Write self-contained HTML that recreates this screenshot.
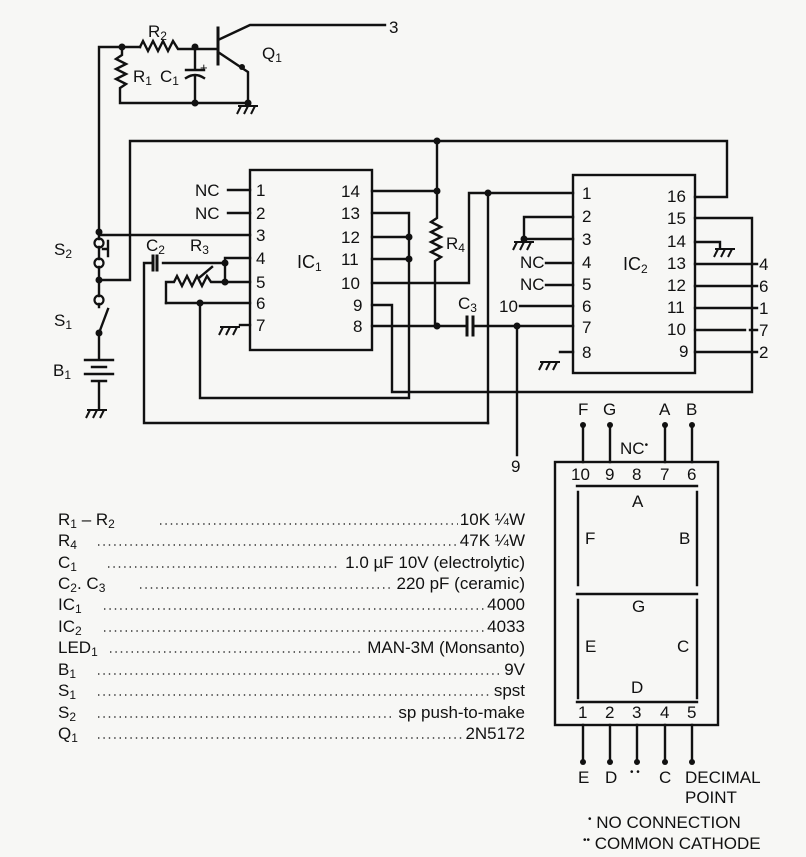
<!DOCTYPE html>
<html><head><meta charset="utf-8"><style>
html,body{margin:0;padding:0;background:#f7f7f5}
svg{display:block}
text{font-family:"Liberation Sans",sans-serif;fill:#111}
</style></head><body>
<svg width="806" height="857" viewBox="0 0 806 857" xmlns="http://www.w3.org/2000/svg">
<defs>
<g id="gnd"><path d="M-10 0H10M-7 0L-11 8M0 0L-4 8M7 0L3 8" stroke="#111" stroke-width="2" fill="none"/></g>
</defs>
<g stroke="#111" stroke-width="2.4" fill="none" stroke-linecap="square">
<path d="M99 232V47H140"/>
<path d="M140 47l3-6 5 10 5-10 5 10 5-10 5 10 5-10 5 8H218"/>
<path d="M122 47v8l-6 4 10 5-10 5 10 5-10 5 10 5-6 4V103H250"/>
<path d="M195 47V70M186 70H204M186 78q9-6 18 0M195 76V103"/>
<path d="M218 28V64" stroke-width="3"/>
<path d="M218 40L250 25H385"/>
<path d="M218 52L248 72V104"/>
<path d="M99 280H130V141H727V197H695"/>
<path d="M99 232V239M99 247V259M99 267V296M108 241V256M103 249H108"/>
<path d="M99 304V307M99 333L108 309M99 333V358"/>
<path d="M85 360H113M92 367H106M85 374H113M92 381H106M99 381V408"/>
<rect x="250" y="170" width="122" height="180"/>
<path d="M228 190H250M228 213H250M99 235H250"/>
<path d="M163 263H225M225 258H250M225 258V282M225 282H250"/>
<path d="M144 263H153M144 263V423H488"/>
<path d="M153 256V270M157 256V270" stroke-width="3"/>
<path d="M166 303V282H174l3-6 5 10 5-10 5 10 5-10 5 10 5-10 4 6H225"/>
<path d="M200 277l12-10"/>
<path d="M166 303H250M200 303V398H409V213H372M372 237H409M372 259H409"/>
<path d="M240 325H250"/>
<path d="M372 191H437M437 141V218l-6 4 10 5-10 5 10 5-10 5 10 5-10 5 10 5-6 4V326"/>
<path d="M372 283H469V193H573M488 193V423"/>
<path d="M372 305H392V392H752V218H695"/>
<path d="M372 326H467M473 326H573M517 326V455"/>
<path d="M467 317V335M473 317V335" stroke-width="3"/>
<rect x="573" y="175" width="122" height="198"/>
<path d="M573 217H524V239H573"/>
<path d="M546 263H573M546 285H573M520 306H573M560 352H573V352"/>
<path d="M695 242H720V248"/>
<path d="M695 264H757M695 286H757M695 308H757M695 330H745M750 330H757M695 352H757"/>
<rect x="555" y="462" width="163" height="263"/>
<path d="M583 425V462M610 425V462M665 425V462M692 425V462"/>
<path d="M577 486H697M578 492V585M697 492V585M577 594H697M578 600V698M697 600V698M577 702H697"/>
<path d="M583 725V762M610 725V762M637 725V762M665 725V762M692 725V762"/>
</g>
<g fill="#111">
<circle cx="122" cy="47" r="3.5"/><circle cx="195" cy="47" r="3.5"/><circle cx="195" cy="103" r="3.5"/><circle cx="248" cy="103" r="3.5"/><circle cx="242" cy="67" r="3"/>
<circle cx="99" cy="232" r="3.5"/><circle cx="99" cy="280" r="3.5"/><circle cx="99" cy="333" r="3.5"/>
<circle cx="225" cy="263" r="3.5"/><circle cx="225" cy="282" r="3.5"/><circle cx="200" cy="303" r="3.5"/>
<circle cx="409" cy="237" r="3.5"/><circle cx="409" cy="259" r="3.5"/>
<circle cx="437" cy="141" r="3.5"/><circle cx="437" cy="191" r="3.5"/><circle cx="437" cy="326" r="3.5"/>
<circle cx="488" cy="193" r="3.5"/><circle cx="517" cy="326" r="3.5"/><circle cx="524" cy="239" r="3.5"/>
<circle cx="583" cy="425" r="3"/><circle cx="610" cy="425" r="3"/><circle cx="665" cy="425" r="3"/><circle cx="692" cy="425" r="3"/>
<circle cx="583" cy="762" r="3"/><circle cx="610" cy="762" r="3"/><circle cx="637" cy="762" r="3"/><circle cx="665" cy="762" r="3"/><circle cx="692" cy="762" r="3"/>
</g>
<g fill="none" stroke="#111" stroke-width="2.2">
<circle cx="99" cy="243" r="4.5"/><circle cx="99" cy="263" r="4.5"/><circle cx="99" cy="300" r="4.5"/>
</g>
<use href="#gnd" x="248" y="106"/><use href="#gnd" x="97" y="410"/><use href="#gnd" x="230" y="327"/>
<use href="#gnd" x="524" y="242"/><use href="#gnd" x="550" y="362"/><use href="#gnd" x="725" y="249"/>
<g font-size="17">
<text x="148" y="37">R<tspan font-size="12" dy="3">2</tspan></text>
<text x="133" y="82">R<tspan font-size="12" dy="3">1</tspan></text>
<text x="160" y="82">C<tspan font-size="12" dy="3">1</tspan></text>
<text x="200" y="72" font-size="13">+</text>
<text x="262" y="59">Q<tspan font-size="12" dy="3">1</tspan></text>
<text x="389" y="33">3</text>
<text x="54" y="255">S<tspan font-size="12" dy="3">2</tspan></text>
<text x="54" y="326">S<tspan font-size="12" dy="3">1</tspan></text>
<text x="53" y="376">B<tspan font-size="12" dy="3">1</tspan></text>
<text x="146" y="251">C<tspan font-size="12" dy="3">2</tspan></text>
<text x="190" y="251">R<tspan font-size="12" dy="3">3</tspan></text>
<text x="195" y="196">NC</text><text x="195" y="219">NC</text>
<text x="256" y="196">1</text><text x="256" y="219">2</text><text x="256" y="241">3</text><text x="256" y="264">4</text><text x="256" y="288">5</text><text x="256" y="309">6</text><text x="256" y="331">7</text>
<text x="341" y="197">14</text><text x="341" y="219">13</text><text x="341" y="243">12</text><text x="341" y="265">11</text><text x="341" y="289">10</text><text x="353" y="311">9</text><text x="353" y="332">8</text>
<text x="297" y="268" font-size="18">IC<tspan font-size="12" dy="3">1</tspan></text>
<text x="446" y="249">R<tspan font-size="12" dy="3">4</tspan></text>
<text x="458" y="309">C<tspan font-size="12" dy="3">3</tspan></text>
<text x="511" y="472">9</text>
<text x="582" y="199">1</text><text x="582" y="222">2</text><text x="582" y="245">3</text><text x="582" y="268">4</text><text x="582" y="290">5</text><text x="582" y="312">6</text><text x="582" y="333">7</text><text x="582" y="358">8</text>
<text x="520" y="268">NC</text><text x="520" y="290">NC</text><text x="499" y="312">10</text>
<text x="667" y="202">16</text><text x="667" y="224">15</text><text x="667" y="247">14</text><text x="667" y="269">13</text><text x="667" y="291">12</text><text x="667" y="313">11</text><text x="667" y="335">10</text><text x="679" y="357">9</text>
<text x="623" y="270" font-size="18">IC<tspan font-size="12" dy="3">2</tspan></text>
<text x="759" y="270">4</text><text x="759" y="292">6</text><text x="759" y="314">1</text><text x="759" y="336">7</text><text x="759" y="358">2</text>
<text x="578" y="415">F</text><text x="603" y="415">G</text><text x="659" y="415">A</text><text x="686" y="415">B</text>
<text x="620" y="454">NC<tspan font-size="10" dy="-6">•</tspan></text>
<text x="571" y="480">10</text><text x="605" y="480">9</text><text x="632" y="480">8</text><text x="660" y="480">7</text><text x="687" y="480">6</text>
<text x="632" y="507">A</text><text x="585" y="544">F</text><text x="679" y="544">B</text>
<text x="632" y="612">G</text><text x="585" y="652">E</text><text x="677" y="652">C</text><text x="631" y="693">D</text>
<text x="578" y="718">1</text><text x="605" y="718">2</text><text x="632" y="718">3</text><text x="660" y="718">4</text><text x="687" y="718">5</text>
<text x="578" y="783">E</text><text x="605" y="783">D</text><text x="630" y="775" font-size="10">• •</text><text x="659" y="783">C</text>
<text x="685" y="783">DECIMAL</text><text x="685" y="803">POINT</text>
<text x="588" y="828"><tspan font-size="10" dy="-6">•</tspan><tspan dy="6"> NO CONNECTION</tspan></text>
<text x="583" y="849"><tspan font-size="10" dy="-6">••</tspan><tspan dy="6"> COMMON CATHODE</tspan></text>
</g>
<g font-size="17">
<text x="58" y="525">R<tspan font-size="12" dy="3">1</tspan><tspan dy="-3"> – R</tspan><tspan font-size="12" dy="3">2</tspan></text>
<text x="58" y="546">R<tspan font-size="12" dy="3">4</tspan></text>
<text x="58" y="568">C<tspan font-size="12" dy="3">1</tspan></text>
<text x="58" y="589">C<tspan font-size="12" dy="3">2</tspan><tspan dy="-3">. C</tspan><tspan font-size="12" dy="3">3</tspan></text>
<text x="58" y="610">IC<tspan font-size="12" dy="3">1</tspan></text>
<text x="58" y="632">IC<tspan font-size="12" dy="3">2</tspan></text>
<text x="58" y="653">LED<tspan font-size="12" dy="3">1</tspan></text>
<text x="58" y="675">B<tspan font-size="12" dy="3">1</tspan></text>
<text x="58" y="696">S<tspan font-size="12" dy="3">1</tspan></text>
<text x="58" y="718">S<tspan font-size="12" dy="3">2</tspan></text>
<text x="58" y="739">Q<tspan font-size="12" dy="3">1</tspan></text>
</g>
<g font-size="17" text-anchor="end">
<text x="525" y="525">10K ¼W</text>
<text x="525" y="546">47K ¼W</text>
<text x="525" y="568">1.0 µF 10V (electrolytic)</text>
<text x="525" y="589">220 pF (ceramic)</text>
<text x="525" y="610">4000</text>
<text x="525" y="632">4033</text>
<text x="525" y="653">MAN-3M (Monsanto)</text>
<text x="525" y="675">9V</text>
<text x="525" y="696">spst</text>
<text x="525" y="718">sp push-to-make</text>
<text x="525" y="739">2N5172</text>
</g>
<g stroke="#333" stroke-width="1.4" stroke-dasharray="1.4 4">
<path d="M160 524H458M98 545H458M108 567H340M140 588H392M104 609H484M104 631H484M110 652H362M98 674H500M98 695H489M98 717H393M98 738H464"/>
</g>
</svg>
</body></html>
